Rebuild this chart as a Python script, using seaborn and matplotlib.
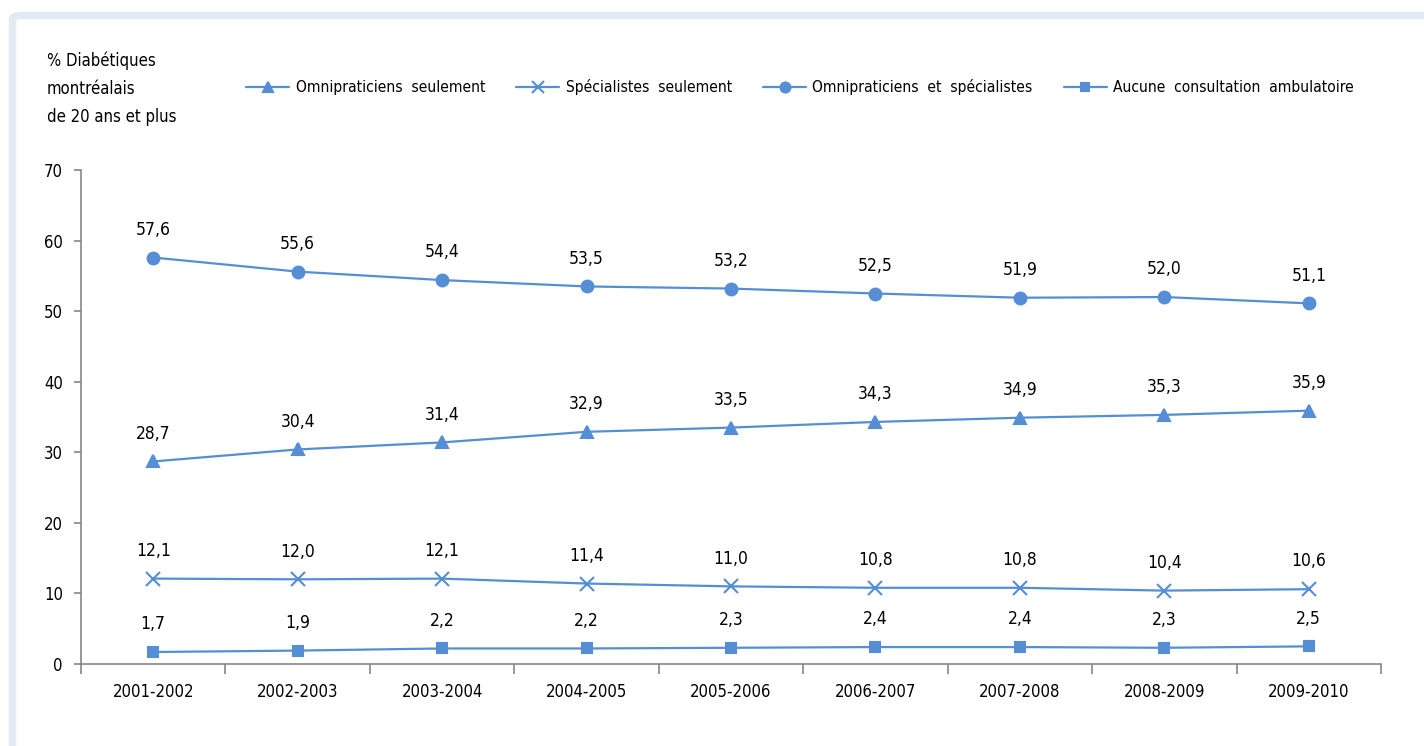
import matplotlib
matplotlib.use('Agg')
import matplotlib.pyplot as plt
from matplotlib import font_manager
import seaborn as sns
import pandas as pd
from matplotlib.patches import FancyBboxPatch
from matplotlib.ticker import FixedLocator

# Data
periods = ['2001-2002', '2002-2003', '2003-2004', '2004-2005', '2005-2006',
           '2006-2007', '2007-2008', '2008-2009', '2009-2010']
omni_seul = [28.7, 30.4, 31.4, 32.9, 33.5, 34.3, 34.9, 35.3, 35.9]
spec_seul = [12.1, 12.0, 12.1, 11.4, 11.0, 10.8, 10.8, 10.4, 10.6]
omni_spec = [57.6, 55.6, 54.4, 53.5, 53.2, 52.5, 51.9, 52.0, 51.1]
aucune = [1.7, 1.9, 2.2, 2.2, 2.3, 2.4, 2.4, 2.3, 2.5]
series_names = ['Omnipraticiens  seulement', 'Spécialistes  seulement',
                'Omnipraticiens  et  spécialistes', 'Aucune  consultation  ambulatoire']

sns.set_style('white')
plt.rcParams['font.family'] = ['DejaVu Sans']
plt.rcParams['text.color'] = 'black'
plt.rcParams['xtick.color'] = 'black'
plt.rcParams['ytick.color'] = 'black'
# use the condensed face if it is installed (closer to the narrow original font)
condensed = any(f.name == 'DejaVu Sans' and f.stretch in ('condensed', 'semi-condensed', 87, 75)
                for f in font_manager.fontManager.ttflist)
if condensed:
    plt.rcParams['font.stretch'] = 'condensed'
fs = 12 if condensed else 10.5

blue = '#558ED5'
fig = plt.figure(figsize=(14.24, 7.46), dpi=100)

# light frame around the chart area
frame = FancyBboxPatch((12.5 / 1424, -0.2), 1.2, 1 - 15.5 / 746 + 0.2,
                       boxstyle='round,pad=0,rounding_size=0.006',
                       transform=fig.transFigure, facecolor='none',
                       edgecolor='#E3EAF3', linewidth=5.5, zorder=-1)
fig.patches.append(frame)

ax = fig.add_axes([81 / 1424, 82 / 746, 1300 / 1424, 494 / 746])
ax.set_facecolor('none')

x = list(range(len(periods)))
specs = [(omni_seul, '^', 8.5), (spec_seul, 'x', 9.5),
         (omni_spec, 'o', 8.5), (aucune, 's', 7.5)]
for name, (vals, mk, ms) in zip(series_names, specs):
    df = pd.DataFrame({'x': x, 'y': vals})
    sns.lineplot(data=df, x='x', y='y', ax=ax, color=blue, marker=mk,
                 markersize=ms, markeredgecolor=blue, markerfacecolor=blue,
                 markeredgewidth=1.5, linewidth=1.6, label=name, legend=False)
    for xi, v in zip(x, vals):
        ax.annotate(f'{v:.1f}'.replace('.', ','), (xi, v), xytext=(0, 20),
                    textcoords='offset points', ha='center', va='center',
                    fontsize=fs + 0.5, color='black')

ax.set_xlim(-0.5, len(periods) - 0.5)
ax.set_ylim(0, 70)
ax.set_yticks(range(0, 71, 10))
ax.set_xticks(x)
ax.set_xticklabels(periods)
ax.xaxis.set_minor_locator(FixedLocator([i - 0.5 for i in range(len(periods) + 1)]))
ax.tick_params(axis='x', which='major', bottom=True, length=0, pad=14, labelsize=fs)
ax.tick_params(axis='x', which='minor', bottom=True, length=7, width=1.2,
               color='#868686', direction='out')
ax.tick_params(axis='y', left=True, length=5, width=1.2, color='#868686',
               direction='out', pad=8, labelsize=fs)
ax.set_xlabel('')
ax.set_ylabel('')
for s in ['top', 'right']:
    ax.spines[s].set_visible(False)
for s in ['left', 'bottom']:
    ax.spines[s].set_color('#868686')
    ax.spines[s].set_linewidth(1.2)

fig.text(47 / 1424, 1 - 51 / 746, '% Diabétiques\nmontréalais\nde 20 ans et plus',
         ha='left', va='top', fontsize=fs, linespacing=1.75)

handles, labels = ax.get_legend_handles_labels()
fig.legend(handles, labels, loc='center', bbox_to_anchor=(800 / 1424, 1 - 87 / 746),
           ncol=4, frameon=False, fontsize=fs * 0.93, handlelength=2.8, markerscale=0.85,
           handletextpad=0.4, columnspacing=2.0)

fig.savefig('out.png', dpi=100)
